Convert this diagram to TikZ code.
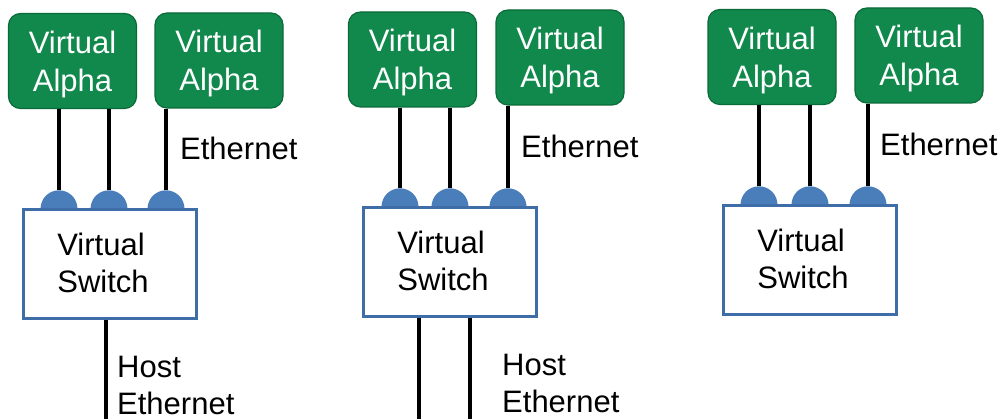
\documentclass[tikz,border=0pt]{standalone}
\usepackage{fontspec}
\setmainfont{Liberation Sans}
\usetikzlibrary{shapes.geometric}
\definecolor{vgreen}{HTML}{11894C}
\definecolor{vgreendark}{HTML}{0B6A39}
\definecolor{portblue}{HTML}{4A7EBB}
\definecolor{boxblue}{HTML}{3F6DA8}
\tikzset{
  alpha/.style={draw=vgreendark, line width=1.2pt, fill=vgreen, rounded corners=12pt,
    minimum width=128pt, minimum height=95pt, inner sep=0pt, text=white, align=center,
    text depth=0pt, font=\fontsize{31}{38}\selectfont},
  switchbox/.style={draw=boxblue, line width=2.6pt, fill=white, minimum width=173pt,
    minimum height=109pt, inner sep=0pt},
  port/.style={semicircle, fill=portblue, minimum width=37pt, minimum height=18.5pt,
    inner sep=0pt, anchor=chord center},
  wire/.style={line width=3.2pt, black},
  lbl/.style={inner sep=0pt, align=left, font=\fontsize{31}{37}\selectfont},
}
\begin{document}
\begin{tikzpicture}[x=1pt,y=-1pt]
\useasboundingbox (0,0) rectangle (1001,419);
% ---------- panel 1 ----------
\node[alpha] (a11) at (72.5,61) {Virtual\\Alpha};
\node[alpha] (a12) at (219,60.5) {Virtual\\Alpha};
\node[port] (p11) at (59,209) {};
\node[port] (p12) at (109,209) {};
\node[port] (p13) at (166,209) {};
\node[switchbox] (s1) at (110,264) {};
\node[lbl, anchor=center] (s1t) at (103,262.5) {Virtual\\Switch};
\draw[wire] (p11.apex |- a11.south) -- (p11.apex);
\draw[wire] (p12.apex |- a11.south) -- (p12.apex);
\draw[wire] (p13.apex |- a12.south) -- (p13.apex);
\node[lbl, anchor=base west] (e1) at (180,160) {Ethernet};
\coordinate (h1) at (106,419);
\draw[wire] (s1.south -| h1) -- (h1);
\node[lbl, anchor=west] (he1) at (117,385) {Host\\Ethernet};
% ---------- panel 2 ----------
\node[alpha] (a21) at (412.5,59.5) {Virtual\\Alpha};
\node[alpha] (a22) at (560,57.5) {Virtual\\Alpha};
\node[port] (p21) at (400,207) {};
\node[port] (p22) at (450,207) {};
\node[port] (p23) at (508,207) {};
\node[switchbox] (s2) at (450,262) {};
\node[lbl, anchor=center] (s2t) at (443,260.5) {Virtual\\Switch};
\draw[wire] (p21.apex |- a21.south) -- (p21.apex);
\draw[wire] (p22.apex |- a21.south) -- (p22.apex);
\draw[wire] (p23.apex |- a22.south) -- (p23.apex);
\node[lbl, anchor=base west] (e2) at (521,158) {Ethernet};
\coordinate (h21) at (419,419);
\coordinate (h22) at (470,419);
\draw[wire] (s2.south -| h21) -- (h21);
\draw[wire] (s2.south -| h22) -- (h22);
\node[lbl, anchor=west] (he2) at (502,383) {Host\\Ethernet};
% ---------- panel 3 ----------
\node[alpha] (a31) at (772,57) {Virtual\\Alpha};
\node[alpha] (a32) at (919,55.5) {Virtual\\Alpha};
\node[port] (p31) at (759,205) {};
\node[port] (p32) at (810,205) {};
\node[port] (p33) at (868,205) {};
\node[switchbox] (s3) at (810,260) {};
\node[lbl, anchor=center] (s3t) at (803,258.5) {Virtual\\Switch};
\draw[wire] (p31.apex |- a31.south) -- (p31.apex);
\draw[wire] (p32.apex |- a31.south) -- (p32.apex);
\draw[wire] (p33.apex |- a32.south) -- (p33.apex);
\node[lbl, anchor=base west] (e3) at (880,156) {Ethernet};
\end{tikzpicture}
\end{document}
